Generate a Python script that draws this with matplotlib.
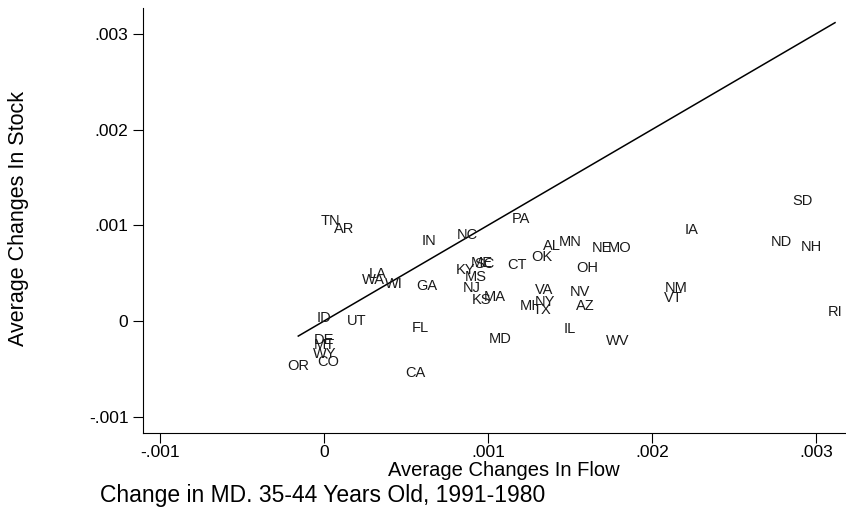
import matplotlib
matplotlib.use("Agg")
import matplotlib.pyplot as plt
import numpy as np

plt.rcParams['font.family'] = ['Liberation Sans', 'DejaVu Sans']

# state averages (units of 0.001)
states = ['TN', 'AR', 'IN', 'NC', 'PA', 'AL', 'OK', 'CT', 'ME', 'SC',
          'KY', 'MS', 'NJ', 'KS', 'MA', 'VA', 'NY', 'MI', 'TX', 'LA',
          'WA', 'WI', 'GA', 'ID', 'UT', 'FL', 'MD', 'IL', 'DE', 'MT',
          'WY', 'CO', 'OR', 'CA', 'SD', 'IA', 'ND', 'NH', 'MN', 'NE',
          'MO', 'OH', 'NV', 'AZ', 'WV', 'NM', 'VT', 'RI']
flow = [0.037, 0.124, 0.638, 0.876, 1.201, 1.388, 1.327, 1.175, 0.962, 0.976,
        0.860, 0.927, 0.901, 0.962, 1.043, 1.341, 1.348, 1.246, 1.327, 0.327,
        0.301, 0.423, 0.626, 0.002, 0.199, 0.585, 1.077, 1.500, 0.002, 0.002,
        0.006, 0.023, -0.157, 0.555, 2.917, 2.242, 2.791, 2.974, 1.500, 1.693,
        1.805, 1.608, 1.561, 1.591, 1.788, 2.145, 2.130, 3.116]
stock = [1.047, 0.957, 0.835, 0.898, 1.062, 0.783, 0.665, 0.585, 0.602, 0.597,
         0.532, 0.456, 0.348, 0.219, 0.254, 0.324, 0.201, 0.160, 0.115, 0.487,
         0.428, 0.383, 0.365, 0.034, 0.000, -0.070, -0.191, -0.087, -0.198, -0.251,
         -0.344, -0.431, -0.470, -0.543, 1.256, 0.950, 0.821, 0.769, 0.821, 0.765,
         0.759, 0.550, 0.306, 0.157, -0.209, 0.341, 0.243, 0.091]

ticks = [-0.001, 0, 0.001, 0.002, 0.003]
tick_labels = ['-.001', '0', '.001', '.002', '.003']

x = np.array(flow) * 1e-3
y = np.array(stock) * 1e-3

fig = plt.figure(figsize=(8.46, 5.13), dpi=100)
ax = fig.add_axes([0.169, 0.156, 0.831, 0.828])

for s, xv, yv in zip(states, x, y):
    ax.text(xv, yv, s, ha='center', va='center', fontsize=10.5, color='#1a1a1a')

# 45 degree line over the range of flow
xs = np.array([x.min(), x.max()])
ax.plot(xs, xs, color='black', lw=1.1)

ax.set_xlim(-0.001104, 0.003183)
ax.set_ylim(-0.001169, 0.003267)
ax.set_xticks(ticks)
ax.set_xticklabels(tick_labels)
ax.set_yticks(ticks)
ax.set_yticklabels(tick_labels)
ax.tick_params(direction='out', length=7.5, width=0.8, labelsize=12.5, pad=3,
               colors='black')
ax.tick_params(axis='x', pad=1.5)
for side in ['top', 'right']:
    ax.spines[side].set_visible(False)
for side in ['left', 'bottom']:
    ax.spines[side].set_linewidth(0.8)

fig.text(0.595, 0.083, 'Average Changes In Flow', ha='center', va='center',
         fontsize=14.5)
fig.text(0.022, 0.574, 'Average Changes In Stock', ha='center', va='center',
         rotation=90, fontsize=15.5)
fig.text(0.118, 0.035, 'Change in MD. 35-44 Years Old, 1991-1980',
         ha='left', va='center', fontsize=16.5)

fig.savefig('out.png', dpi=100)
